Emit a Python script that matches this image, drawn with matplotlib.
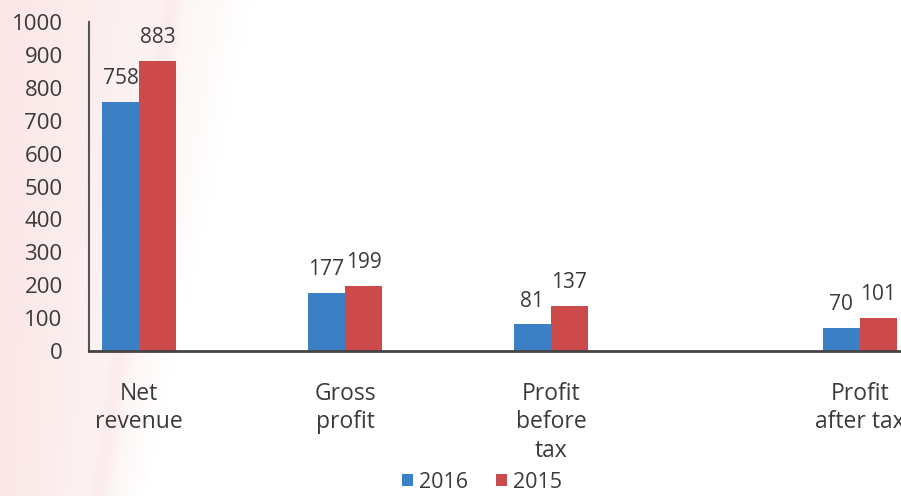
import numpy as np
import matplotlib.pyplot as plt
from matplotlib.colors import LinearSegmentedColormap

plt.rcParams['font.family'] = ['Open Sans', 'DejaVu Sans']

# data
categories = ['Net\nrevenue', 'Gross\nprofit', 'Profit\nbefore\ntax', 'Profit\nafter tax']
x_pos = [0, 1, 2, 3.5]
vals_2016 = [758, 177, 81, 70]
vals_2015 = [883, 199, 137, 101]
series = ['2016', '2015']

blue = '#3b7fc4'
red = '#cd4a4b'
txt = '#3a3a3a'

fig = plt.figure(figsize=(9.01, 4.96), dpi=100)

# soft pink slide background on the left
bg = fig.add_axes([0, 0, 1, 1], zorder=-10)
xx, yy = np.meshgrid(np.linspace(0, 1, 400), np.linspace(0, 1, 220))
edge = 0.16 + 0.12 * (1 - yy)
shade = np.clip((edge - xx) / edge, 0, 1) ** 0.8
shade += 0.35 * np.exp(-((xx - (0.11 + 0.08 * (1 - yy))) / 0.012) ** 2) * (xx < 0.3)
shade = np.clip(shade, 0, 1)
cmap = LinearSegmentedColormap.from_list('pink', ['#ffffff', '#fbe6e6'])
bg.imshow(shade, cmap=cmap, aspect='auto', extent=[0, 1, 0, 1], origin='upper', vmin=0, vmax=1)
bg.axis('off')

ax = fig.add_axes([0.0988, 0.2923, 0.9012, 0.6633])
ax.patch.set_alpha(0)

w = 0.18
x = np.array(x_pos)
b1 = ax.bar(x - w / 2, vals_2016, w, color=blue, label=series[0])
b2 = ax.bar(x + w / 2, vals_2015, w, color=red, label=series[1])

for bars in (b1, b2):
    for b in bars:
        ax.annotate(f'{int(b.get_height())}', (b.get_x() + b.get_width() / 2, b.get_height()),
                    xytext=(0, 9), textcoords='offset points', ha='center', va='bottom',
                    fontsize=15, color=txt)

ax.set_ylim(0, 1000)
ax.set_yticks(range(0, 1001, 100))
ax.set_xlim(-0.243, 3.70)
ax.set_xticks(x_pos)
ax.set_xticklabels(categories, linespacing=1.25)
ax.tick_params(axis='x', length=0, pad=22, labelsize=16.5, labelcolor=txt)
ax.tick_params(axis='y', length=0, pad=19, labelsize=16, labelcolor=txt)

for s in ['top', 'right']:
    ax.spines[s].set_visible(False)
ax.spines['left'].set_color('#555555')
ax.spines['left'].set_linewidth(1.5)
ax.spines['bottom'].set_color('#444444')
ax.spines['bottom'].set_linewidth(2)

fig.legend(loc='center', bbox_to_anchor=(0.535, 0.028), ncol=2, frameon=False,
           fontsize=15.5, handlelength=0.5, handleheight=0.5, handletextpad=0.3,
           columnspacing=1.3, labelcolor=txt, borderpad=0)

fig.savefig('out.png', dpi=100)
